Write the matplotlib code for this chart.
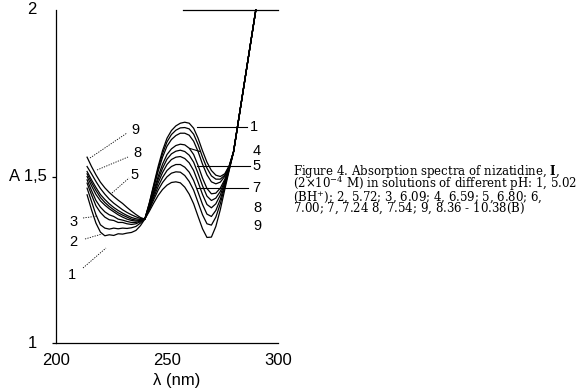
import matplotlib
matplotlib.use("Agg")
import matplotlib.pyplot as plt
from matplotlib import font_manager

# ---------------- data ----------------
wavelength = list(range(214, 291, 2))  # nm

A1 = [1.445, 1.400, 1.360, 1.333, 1.322, 1.325, 1.323, 1.328, 1.327, 1.330, 1.332, 1.338, 1.352,
      1.372, 1.420, 1.475, 1.530, 1.578, 1.615, 1.638, 1.652, 1.660, 1.663, 1.660, 1.645, 1.615, 1.577,
      1.543, 1.518, 1.504, 1.500, 1.508, 1.532,
      1.575, 1.660, 1.745, 1.830, 1.915, 2.000]
A2 = [1.465, 1.425, 1.385, 1.355, 1.345, 1.342, 1.345, 1.343, 1.345, 1.344, 1.346, 1.350, 1.360,
      1.372, 1.418, 1.471, 1.523, 1.569, 1.604, 1.626, 1.639, 1.646, 1.647, 1.643, 1.627, 1.596, 1.558,
      1.525, 1.502, 1.492, 1.492, 1.504, 1.531,
      1.575, 1.660, 1.745, 1.830, 1.915, 2.000]
A3 = [1.480, 1.445, 1.412, 1.392, 1.378, 1.370, 1.368, 1.362, 1.362, 1.358, 1.356, 1.358, 1.364,
      1.372, 1.416, 1.466, 1.515, 1.558, 1.591, 1.611, 1.623, 1.630, 1.630, 1.624, 1.606, 1.575, 1.537,
      1.505, 1.484, 1.478, 1.483, 1.500, 1.530,
      1.575, 1.660, 1.745, 1.830, 1.915, 2.000]
A4 = [1.490, 1.458, 1.428, 1.408, 1.394, 1.385, 1.380, 1.372, 1.369, 1.365, 1.362, 1.362, 1.366,
      1.372, 1.411, 1.456, 1.500, 1.537, 1.566, 1.583, 1.593, 1.597, 1.595, 1.585, 1.566, 1.533, 1.495,
      1.464, 1.448, 1.450, 1.465, 1.491, 1.527,
      1.575, 1.660, 1.745, 1.830, 1.915, 2.000]
A5 = [1.500, 1.472, 1.446, 1.427, 1.414, 1.403, 1.394, 1.385, 1.378, 1.372, 1.368, 1.366, 1.368,
      1.372, 1.409, 1.450, 1.491, 1.525, 1.552, 1.568, 1.576, 1.579, 1.575, 1.564, 1.543, 1.509, 1.472,
      1.441, 1.428, 1.435, 1.455, 1.486, 1.526,
      1.575, 1.660, 1.745, 1.830, 1.915, 2.000]
A6 = [1.508, 1.482, 1.458, 1.437, 1.422, 1.410, 1.400, 1.391, 1.384, 1.378, 1.372, 1.369, 1.369,
      1.372, 1.406, 1.444, 1.481, 1.512, 1.536, 1.551, 1.558, 1.560, 1.554, 1.541, 1.518, 1.483, 1.446,
      1.416, 1.406, 1.418, 1.444, 1.481, 1.524,
      1.575, 1.660, 1.745, 1.830, 1.915, 2.000]
A7 = [1.515, 1.490, 1.467, 1.446, 1.431, 1.418, 1.407, 1.398, 1.390, 1.383, 1.377, 1.373, 1.371,
      1.372, 1.403, 1.437, 1.470, 1.497, 1.518, 1.530, 1.536, 1.536, 1.528, 1.513, 1.488, 1.453, 1.416,
      1.387, 1.380, 1.398, 1.431, 1.475, 1.522,
      1.575, 1.660, 1.745, 1.830, 1.915, 2.000]
A8 = [1.530, 1.508, 1.485, 1.464, 1.447, 1.432, 1.420, 1.410, 1.400, 1.392, 1.385, 1.379, 1.374,
      1.372, 1.400, 1.430, 1.459, 1.482, 1.499, 1.510, 1.514, 1.513, 1.503, 1.485, 1.459, 1.422, 1.385,
      1.358, 1.354, 1.378, 1.418, 1.469, 1.521,
      1.575, 1.660, 1.745, 1.830, 1.915, 2.000]
A9 = [1.558, 1.530, 1.505, 1.483, 1.466, 1.452, 1.440, 1.429, 1.419, 1.407, 1.396, 1.386, 1.377,
      1.372, 1.395, 1.420, 1.443, 1.461, 1.474, 1.482, 1.484, 1.481, 1.468, 1.447, 1.418, 1.380, 1.343,
      1.317, 1.318, 1.350, 1.400, 1.460, 1.518,
      1.575, 1.660, 1.745, 1.830, 1.915, 2.000]
series = [A1, A2, A3, A4, A5, A6, A7, A8, A9]

x_ticks = [200, 250, 300]
x_tick_labels = ["200", "250", "300"]
y_ticks = [1, 1.5, 2]
y_tick_labels = ["1", "A 1,5", "2"]
x_label = "λ (nm)"

caption = [
    r"Figure 4. Absorption spectra of nizatidine, $\mathbf{I}$,",
    r"(2×10$^{-4}$ M) in solutions of different pH: $\mathit{1}$, 5.02",
    r"(BH$^{+}$); $\mathit{2}$, 5.72; $\mathit{3}$, 6.09; $\mathit{4}$, 6.59; $\mathit{5}$, 6.80; $\mathit{6}$,",
    r"7.00; $\mathit{7}$, 7.24 $\mathit{8}$, 7.54; $\mathit{9}$, 8.36 - 10.38(B)",
]

# ---------------- fonts ----------------
names = {f.name for f in font_manager.fontManager.ttflist}
sans = "Liberation Sans Narrow" if "Liberation Sans Narrow" in names else "Liberation Sans"
plt.rcParams["font.family"] = [sans, "DejaVu Sans"]
plt.rcParams["mathtext.fontset"] = "custom"
plt.rcParams["mathtext.rm"] = "DejaVu Serif"
plt.rcParams["mathtext.it"] = "DejaVu Serif:italic"
plt.rcParams["mathtext.bf"] = "DejaVu Serif:bold"

W, H = 583, 390
fig = plt.figure(figsize=(W / 100, H / 100), dpi=100)
fig.patch.set_facecolor("white")

# axes: x 200->px56, 300->px278 ; y 1->px343, 2->px10
ax = fig.add_axes([56 / W, (H - 343) / H, 222 / W, 333 / H])
ax.set_xlim(200, 300)
ax.set_ylim(1, 2)
for s in ("top", "right"):
    ax.spines[s].set_visible(False)
for s in ("left", "bottom"):
    ax.spines[s].set_linewidth(0.9)

ax.set_xticks(x_ticks)
ax.set_xticklabels([])
ax.tick_params(axis="x", length=0)
ax.set_yticks(y_ticks[:2])
ax.set_yticklabels([])
ax.tick_params(axis="y", length=3, width=0.9, direction="out")

for A in series:
    ax.plot(wavelength, A, color="black", lw=0.9, clip_on=False)

# partial top line at A = 2
ax.plot([257, 300], [2, 2], color="black", lw=0.9, clip_on=False)


def px(xp, yp):
    return 200 + (xp - 56) / 2.22, 1 + (343 - yp) / 333.0


lab_fs = 10.5
# right-side labels with leaders
right_labels = [("1", 253.5, 127), ("4", 257, 151), ("5", 257, 166.5),
                ("7", 256, 188.5), ("8", 257, 207.5), ("9", 257, 226)]
for t, xp, yp in right_labels:
    xd, yd = px(xp, yp)
    ax.text(xd, yd, t, ha="center", va="center", fontsize=lab_fs, clip_on=False)

right_leaders = [((197, 126.7), (247, 126.7)), ((190, 148.5), (200, 151.5)),
                 ((197, 166), (250, 166)), ((197, 188), (248, 188))]
for (x0, y0), (x1, y1) in right_leaders:
    a, b = px(x0, y0)
    c, d = px(x1, y1)
    ax.plot([a, c], [b, d], color="black", lw=0.8, clip_on=False)

# left-side labels with dotted leaders
left_labels = [("9", 135, 130), ("8", 137, 153), ("5", 135, 175),
               ("3", 74, 222), ("2", 73, 242), ("1", 72, 275)]
for t, xp, yp in left_labels:
    xd, yd = px(xp, yp)
    ax.text(xd, yd, t, ha="center", va="center", fontsize=lab_fs, clip_on=False)

left_leaders = [((90, 158), (127, 133)), ((97, 170), (128, 157)), ((112, 193), (129, 178)),
                ((83, 218), (98, 216)), ((85, 239), (102, 234)), ((83, 268), (106, 248))]
for (x0, y0), (x1, y1) in left_leaders:
    a, b = px(x0, y0)
    c, d = px(x1, y1)
    ax.plot([a, c], [b, d], color="black", lw=0.6, ls=(0, (1.5, 1.5)), clip_on=False)

# tick labels (placed to match the reference)
tick_fs = 12
for v, t in zip(x_ticks, x_tick_labels):
    fig.text((56 + (v - 200) * 2.22) / W, 1 - 360.5 / H, t, ha="center", va="center", fontsize=tick_fs)
fig.text(32 / W, 1 - 343 / H, y_tick_labels[0], ha="center", va="center", fontsize=tick_fs)
fig.text(47 / W, 1 - 177 / H, y_tick_labels[1], ha="right", va="center", fontsize=tick_fs)
fig.text(32 / W, 1 - 10 / H, y_tick_labels[2], ha="center", va="center", fontsize=tick_fs)
fig.text(177 / W, 1 - 380 / H, x_label, ha="center", va="center", fontsize=tick_fs)

# caption as one multi-line text block
fig.text(293 / W, 1 - 163 / H, "\n".join(caption), ha="left", va="top",
         fontsize=8.5, linespacing=0.6, family=["DejaVu Serif"])

fig.savefig("out.png", dpi=100)
